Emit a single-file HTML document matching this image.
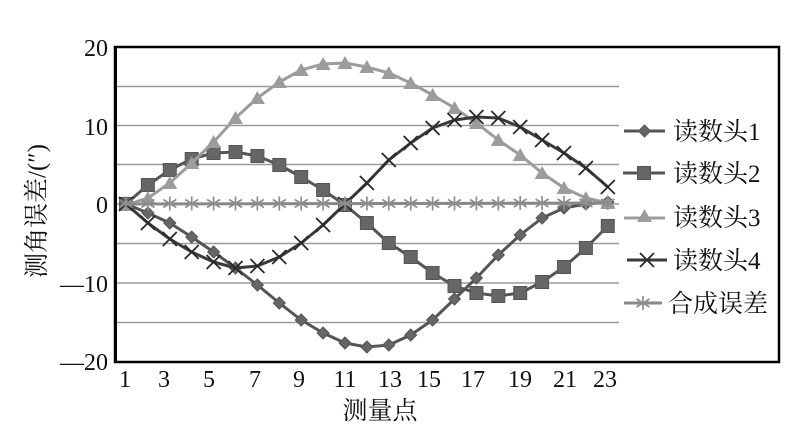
<!DOCTYPE html>
<html><head><meta charset="utf-8"><style>
html,body{margin:0;padding:0;background:#fff;}
svg{display:block;}
.t{font-family:"Liberation Serif","Noto Serif CJK SC",serif;fill:#111;}
</style></head><body>
<svg width="800" height="426" viewBox="0 0 800 426" xmlns="http://www.w3.org/2000/svg">
<defs>
<path id="dia" d="M0,-6 L6,0 L0,6 L-6,0Z" fill="#666" stroke="#555" stroke-width="1"/>
<rect id="sq" x="-6.5" y="-6.5" width="13" height="13" fill="#666" stroke="#555" stroke-width="1"/>
<path id="tri" d="M0,-7 L7.5,6 L-7.5,6Z" fill="#9c9c9c"/>
<path id="xx" d="M-7,-7L7,7M-7,7L7,-7" stroke="#2a2a2a" stroke-width="1.8" fill="none"/>
<path id="ast" d="M0,-7V7M-6.5,-4L6.5,4M-6.5,4L6.5,-4" stroke="#8e8e8e" stroke-width="1.7" fill="none"/>
</defs>
<rect width="800" height="426" fill="#fff"/>
<g stroke="#9a9a9a" stroke-width="1.5">
<line x1="115" y1="86.5" x2="619" y2="86.5"/>
<line x1="115" y1="125.5" x2="619" y2="125.5"/>
<line x1="115" y1="164.5" x2="619" y2="164.5"/>
<line x1="115" y1="204" x2="619" y2="204"/>
<line x1="115" y1="243.5" x2="619" y2="243.5"/>
<line x1="115" y1="283" x2="619" y2="283"/>
<line x1="115" y1="322.5" x2="619" y2="322.5"/>
</g>
<rect x="115" y="47" width="664" height="315" fill="none" stroke="#000" stroke-width="2.5"/>
<line x1="115.5" y1="46" x2="115.5" y2="363" stroke="#000" stroke-width="3"/>
<g class="t" font-size="24" text-anchor="end">
<text x="108" y="56">20</text>
<text x="108" y="135">10</text>
<text x="108" y="213">0</text>
<text x="108" y="292">—10</text>
<text x="108" y="370">—20</text>
</g>
<g class="t" font-size="24" text-anchor="middle">
<text x="125" y="387">1</text>
<text x="164" y="387">3</text>
<text x="209" y="387">5</text>
<text x="255" y="387">7</text>
<text x="299" y="387">9</text>
<text x="345" y="387">11</text>
<text x="390" y="387">13</text>
<text x="429" y="387">15</text>
<text x="473" y="387">17</text>
<text x="520" y="387">19</text>
<text x="565" y="387">21</text>
<text x="605" y="387">23</text>
</g>
<text class="t" font-size="25" x="380" y="419" text-anchor="middle">测量点</text>
<text class="t" font-size="25" transform="translate(45,211) rotate(-90)" text-anchor="middle">测角误差/(″)</text>

<polyline fill="none" stroke="#555" stroke-width="3" stroke-linejoin="round" points="126,204 147.9,213 169.8,223 191.7,237 213.6,252 235.5,268 257.4,285 279.3,303 301.2,320 323.1,333 345,343 366.9,347 388.8,345 410.7,335 432.6,320 454.5,299 476.4,278 498.3,255 520.2,235 542.1,218 564,208 585.9,204 607.8,202"/>
<g>
<use href="#dia" x="126" y="204"/><use href="#dia" x="147.9" y="213"/><use href="#dia" x="169.8" y="223"/><use href="#dia" x="191.7" y="237"/><use href="#dia" x="213.6" y="252"/><use href="#dia" x="235.5" y="268"/><use href="#dia" x="257.4" y="285"/><use href="#dia" x="279.3" y="303"/><use href="#dia" x="301.2" y="320"/><use href="#dia" x="323.1" y="333"/><use href="#dia" x="345" y="343"/><use href="#dia" x="366.9" y="347"/><use href="#dia" x="388.8" y="345"/><use href="#dia" x="410.7" y="335"/><use href="#dia" x="432.6" y="320"/><use href="#dia" x="454.5" y="299"/><use href="#dia" x="476.4" y="278"/><use href="#dia" x="498.3" y="255"/><use href="#dia" x="520.2" y="235"/><use href="#dia" x="542.1" y="218"/><use href="#dia" x="564" y="208"/><use href="#dia" x="585.9" y="204"/><use href="#dia" x="607.8" y="202"/>
</g>
<polyline fill="none" stroke="#555" stroke-width="3" stroke-linejoin="round" points="126,204 147.9,185 169.8,170 191.7,159 213.6,153 235.5,152 257.4,156 279.3,165 301.2,177 323.1,190 345,205 366.9,223 388.8,243 410.7,257 432.6,273 454.5,286 476.4,293 498.3,296 520.2,293 542.1,282 564,267 585.9,248 607.8,226"/>
<g>
<use href="#sq" x="126" y="204"/><use href="#sq" x="147.9" y="185"/><use href="#sq" x="169.8" y="170"/><use href="#sq" x="191.7" y="159"/><use href="#sq" x="213.6" y="153"/><use href="#sq" x="235.5" y="152"/><use href="#sq" x="257.4" y="156"/><use href="#sq" x="279.3" y="165"/><use href="#sq" x="301.2" y="177"/><use href="#sq" x="323.1" y="190"/><use href="#sq" x="345" y="205"/><use href="#sq" x="366.9" y="223"/><use href="#sq" x="388.8" y="243"/><use href="#sq" x="410.7" y="257"/><use href="#sq" x="432.6" y="273"/><use href="#sq" x="454.5" y="286"/><use href="#sq" x="476.4" y="293"/><use href="#sq" x="498.3" y="296"/><use href="#sq" x="520.2" y="293"/><use href="#sq" x="542.1" y="282"/><use href="#sq" x="564" y="267"/><use href="#sq" x="585.9" y="248"/><use href="#sq" x="607.8" y="226"/>
</g>
<polyline fill="none" stroke="#9c9c9c" stroke-width="3" stroke-linejoin="round" points="126,205 147.9,198 169.8,183 191.7,163 213.6,142 235.5,118 257.4,98 279.3,82 301.2,70 323.1,64 345,63 366.9,67 388.8,73 410.7,83 432.6,95 454.5,108 476.4,123 498.3,140 520.2,155 542.1,173 564,188 585.9,198 607.8,203"/>
<g>
<use href="#tri" x="126" y="205"/><use href="#tri" x="147.9" y="198"/><use href="#tri" x="169.8" y="183"/><use href="#tri" x="191.7" y="163"/><use href="#tri" x="213.6" y="142"/><use href="#tri" x="235.5" y="118"/><use href="#tri" x="257.4" y="98"/><use href="#tri" x="279.3" y="82"/><use href="#tri" x="301.2" y="70"/><use href="#tri" x="323.1" y="64"/><use href="#tri" x="345" y="63"/><use href="#tri" x="366.9" y="67"/><use href="#tri" x="388.8" y="73"/><use href="#tri" x="410.7" y="83"/><use href="#tri" x="432.6" y="95"/><use href="#tri" x="454.5" y="108"/><use href="#tri" x="476.4" y="123"/><use href="#tri" x="498.3" y="140"/><use href="#tri" x="520.2" y="155"/><use href="#tri" x="542.1" y="173"/><use href="#tri" x="564" y="188"/><use href="#tri" x="585.9" y="198"/><use href="#tri" x="607.8" y="203"/>
</g>
<polyline fill="none" stroke="#3a3a3a" stroke-width="3" stroke-linejoin="round" points="126,204 147.9,223 169.8,239 191.7,252 213.6,262 235.5,268 257.4,266 279.3,257 301.2,243 323.1,225 345,204 366.9,183 388.8,160 410.7,143 432.6,128 454.5,120 476.4,117 498.3,118 520.2,127 542.1,140 564,153 585.9,168 607.8,187"/>
<g>
<use href="#xx" x="126" y="204"/><use href="#xx" x="147.9" y="223"/><use href="#xx" x="169.8" y="239"/><use href="#xx" x="191.7" y="252"/><use href="#xx" x="213.6" y="262"/><use href="#xx" x="235.5" y="268"/><use href="#xx" x="257.4" y="266"/><use href="#xx" x="279.3" y="257"/><use href="#xx" x="301.2" y="243"/><use href="#xx" x="323.1" y="225"/><use href="#xx" x="345" y="204"/><use href="#xx" x="366.9" y="183"/><use href="#xx" x="388.8" y="160"/><use href="#xx" x="410.7" y="143"/><use href="#xx" x="432.6" y="128"/><use href="#xx" x="454.5" y="120"/><use href="#xx" x="476.4" y="117"/><use href="#xx" x="498.3" y="118"/><use href="#xx" x="520.2" y="127"/><use href="#xx" x="542.1" y="140"/><use href="#xx" x="564" y="153"/><use href="#xx" x="585.9" y="168"/><use href="#xx" x="607.8" y="187"/>
</g>
<polyline fill="none" stroke="#888" stroke-width="3" points="126,204 607.8,203"/>
<g>
<use href="#ast" x="126" y="203.5"/><use href="#ast" x="147.9" y="203.5"/><use href="#ast" x="169.8" y="203.5"/><use href="#ast" x="191.7" y="203.5"/><use href="#ast" x="213.6" y="203.5"/><use href="#ast" x="235.5" y="203.5"/><use href="#ast" x="257.4" y="203.5"/><use href="#ast" x="279.3" y="203.5"/><use href="#ast" x="301.2" y="203.5"/><use href="#ast" x="323.1" y="203.5"/><use href="#ast" x="345" y="203.5"/><use href="#ast" x="366.9" y="203.5"/><use href="#ast" x="388.8" y="203.5"/><use href="#ast" x="410.7" y="203.5"/><use href="#ast" x="432.6" y="203.5"/><use href="#ast" x="454.5" y="203.5"/><use href="#ast" x="476.4" y="203.5"/><use href="#ast" x="498.3" y="203.5"/><use href="#ast" x="520.2" y="203"/><use href="#ast" x="542.1" y="203"/><use href="#ast" x="564" y="203"/><use href="#ast" x="585.9" y="203"/><use href="#ast" x="607.8" y="203"/>
</g>

<line x1="624" y1="131" x2="665" y2="131" stroke="#555" stroke-width="3"/>
<use href="#dia" x="644.5" y="131"/>
<line x1="623" y1="173" x2="665" y2="173" stroke="#555" stroke-width="3"/>
<use href="#sq" x="644" y="173"/>
<line x1="624" y1="218" x2="665" y2="218" stroke="#9c9c9c" stroke-width="3"/>
<use href="#tri" x="644.5" y="216"/>
<line x1="627" y1="260" x2="667" y2="260" stroke="#3a3a3a" stroke-width="3"/>
<use href="#xx" x="647" y="260"/>
<line x1="624" y1="303" x2="662" y2="303" stroke="#888" stroke-width="3"/>
<use href="#ast" x="643" y="303"/>
<g class="t" font-size="25">
<text x="673" y="140">读数头1</text>
<text x="673" y="182">读数头2</text>
<text x="673" y="226">读数头3</text>
<text x="673" y="269">读数头4</text>
<text x="668" y="312">合成误差</text>
</g>
</svg>
</body></html>
